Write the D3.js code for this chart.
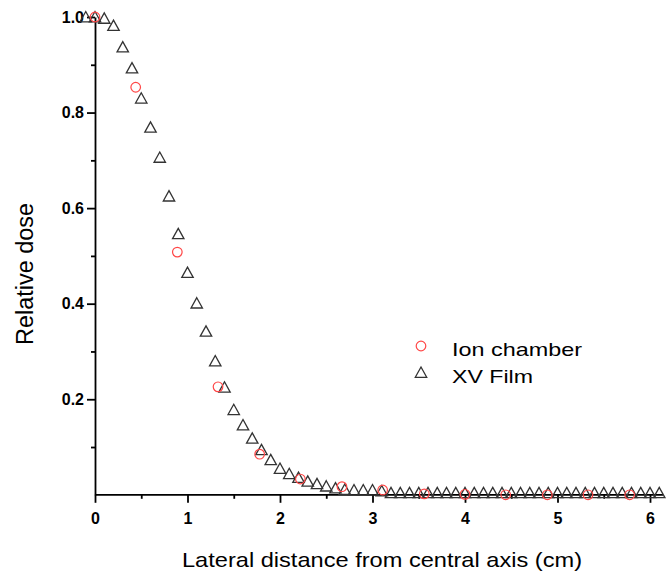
<!DOCTYPE html>
<html>
<head>
<meta charset="utf-8">
<script src="https://cdn.jsdelivr.net/npm/d3@7"></script>
<style>
  body { margin: 0; background: #fff; }
  svg { display: block; font-family: Arial, "Liberation Sans", Helvetica, sans-serif; }
  .axis path, .axis line { stroke: #000; stroke-width: 1.8px; }
  .axis text { font-size: 16px; font-weight: bold; fill: #000; }
</style>
</head>
<body>
<svg width="670" height="573"></svg>
<script>
// XV film, sampled every 0.1 cm
var filmX = [-0.1, 0.0, 0.1, 0.2, 0.3, 0.4, 0.5, 0.6, 0.7, 0.8, 0.9,
  1.0, 1.1, 1.2, 1.3, 1.4, 1.5, 1.6, 1.7, 1.8, 1.9,
  2.0, 2.1, 2.2, 2.3, 2.4, 2.5, 2.6, 2.7, 2.8, 2.9,
  3.0, 3.1, 3.2, 3.3, 3.4, 3.5, 3.6, 3.7, 3.8, 3.9,
  4.0, 4.1, 4.2, 4.3, 4.4, 4.5, 4.6, 4.7, 4.8, 4.9,
  5.0, 5.1, 5.2, 5.3, 5.4, 5.5, 5.6, 5.7, 5.8, 5.9,
  6.0, 6.1];
var filmDose = [1.0, 1.0, 0.997, 0.982, 0.937, 0.893, 0.830, 0.769, 0.706, 0.625, 0.546,
  0.465, 0.401, 0.342, 0.280, 0.225, 0.178, 0.146, 0.118, 0.094, 0.073,
  0.055, 0.044, 0.036, 0.028, 0.023, 0.018, 0.014, 0.011, 0.010, 0.010,
  0.010, 0.008, 0.004, 0.004, 0.004, 0.004, 0.004, 0.004, 0.004, 0.004,
  0.004, 0.004, 0.004, 0.004, 0.004, 0.004, 0.004, 0.004, 0.004, 0.004,
  0.004, 0.004, 0.004, 0.004, 0.004, 0.004, 0.004, 0.004, 0.004, 0.004,
  0.004, 0.004];

// ion chamber
var ionX = [0, 0.44, 0.89, 1.33, 1.78, 2.22, 2.67, 3.11, 3.56, 4.0, 4.44, 4.89, 5.33, 5.78];
var ionDose = [1.0, 0.853, 0.508, 0.226, 0.085, 0.033, 0.017, 0.010, 0.002, 0.001, 0.0, 0.0, 0.0, 0.0];

var xMajor = [0, 1, 2, 3, 4, 5, 6],
    xMinor = [0.5, 1.5, 2.5, 3.5, 4.5, 5.5],
    yMajor = [0.2, 0.4, 0.6, 0.8, 1.0],
    yMinor = [0.1, 0.3, 0.5, 0.7, 0.9];

var svg = d3.select("svg");

var x = d3.scaleLinear().domain([0, 6]).range([95, 650]);
var y = d3.scaleLinear().domain([0, 1]).range([494.8, 17]);

// minor ticks first
svg.append("g")
    .attr("class", "axis")
    .attr("transform", "translate(0," + y(0) + ")")
    .call(d3.axisBottom(x).tickValues(xMinor).tickSize(4).tickFormat(""))
    .select(".domain").remove();
svg.append("g")
    .attr("class", "axis")
    .attr("transform", "translate(" + x(0) + ",0)")
    .call(d3.axisLeft(y).tickValues(yMinor).tickSize(4).tickFormat(""))
    .select(".domain").remove();

var xAxis = svg.append("g")
    .attr("class", "axis")
    .attr("transform", "translate(0," + y(0) + ")")
    .call(d3.axisBottom(x).tickValues(xMajor).tickSize(8).tickPadding(10).tickSizeOuter(0).tickFormat(d3.format("d")));
xAxis.select(".domain").attr("d", "M" + x(0) + ",0H" + x(6.14));

var yAxis = svg.append("g")
    .attr("class", "axis")
    .attr("transform", "translate(" + x(0) + ",0)")
    .call(d3.axisLeft(y).tickValues(yMajor).tickSize(8).tickPadding(3).tickSizeOuter(0).tickFormat(d3.format(".1f")));

// triangles
var tri = "M0,-5.5L5.7,4.8L-5.7,4.8Z";

svg.append("g").selectAll("path")
    .data(filmX)
    .enter()
    .append("path")
    .attr("d", tri)
    .attr("transform", function(d, i) { return "translate(" + x(d) + "," + y(filmDose[i]) + ")"; })
    .attr("fill", "none")
    .attr("stroke", "#333")
    .attr("stroke-width", 1.3);

svg.append("g").selectAll("circle")
    .data(ionX)
    .enter()
    .append("circle")
    .attr("cx", function(d) { return x(d); })
    .attr("cy", function(d, i) { return y(ionDose[i]); })
    .attr("r", 4.8)
    .attr("fill", "none")
    .attr("stroke", "#ff4747")
    .attr("stroke-width", 1.2);

// legend
var legend = svg.append("g").attr("transform", "translate(421,0)");
legend.append("circle")
    .attr("cx", 0).attr("cy", 346).attr("r", 4.8)
    .attr("fill", "none").attr("stroke", "#ff4747").attr("stroke-width", 1.2);
legend.append("path")
    .attr("d", tri)
    .attr("transform", "translate(0,372.5)")
    .attr("fill", "none").attr("stroke", "#333").attr("stroke-width", 1.3);
legend.append("text").attr("x", 31).attr("y", 355.5)
    .style("font-size", "19px")
    .attr("textLength", 130).attr("lengthAdjust", "spacingAndGlyphs")
    .text("Ion chamber");
legend.append("text").attr("x", 31).attr("y", 382.5)
    .style("font-size", "19px")
    .attr("textLength", 81).attr("lengthAdjust", "spacingAndGlyphs")
    .text("XV Film");

// axis titles
svg.append("text")
    .attr("x", 382).attr("y", 566.5)
    .attr("text-anchor", "middle")
    .style("font-size", "21px")
    .attr("textLength", 400).attr("lengthAdjust", "spacingAndGlyphs")
    .text("Lateral distance from central axis (cm)");

svg.append("text")
    .attr("transform", "translate(33,274) rotate(-90)")
    .attr("text-anchor", "middle")
    .style("font-size", "23px")
    .attr("textLength", 142).attr("lengthAdjust", "spacingAndGlyphs")
    .text("Relative dose");
</script>
</body>
</html>
